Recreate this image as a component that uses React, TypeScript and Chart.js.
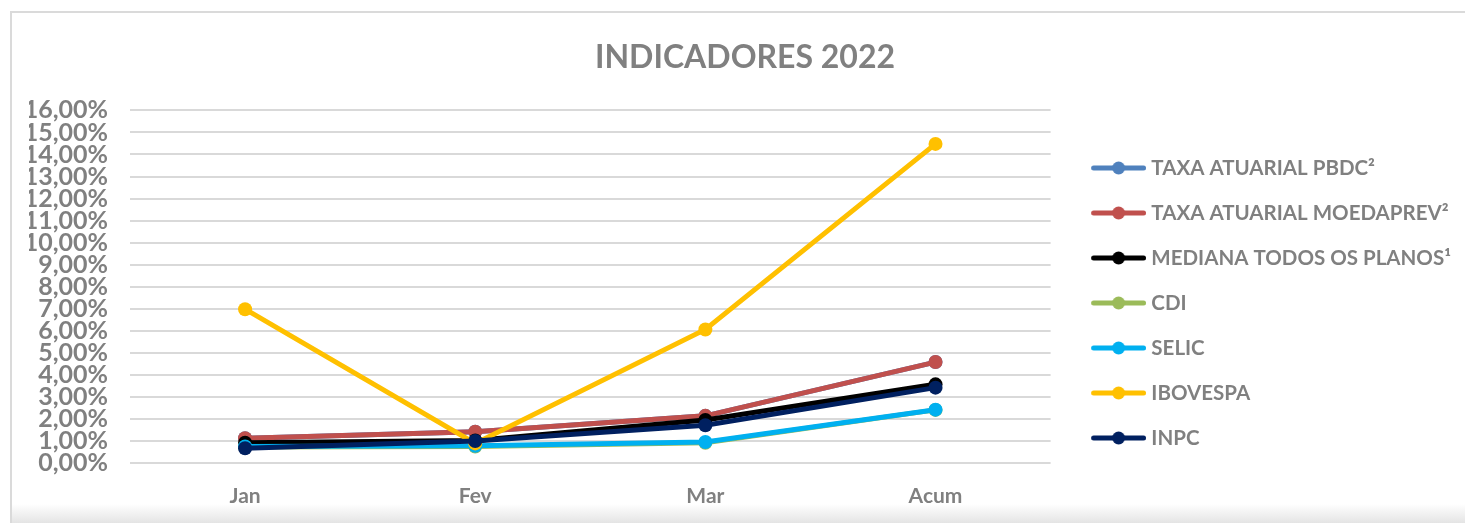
import React, { useEffect, useRef } from 'react';
import { Chart, registerables } from 'chart.js';

Chart.register(...registerables);

// ---- data ----
const categories = ['Jan', 'Fev', 'Mar', 'Acum'];
const seriesNames = [
  'TAXA ATUARIAL PBDC²',
  'TAXA ATUARIAL MOEDAPREV²',
  'MEDIANA TODOS OS PLANOS¹',
  'CDI',
  'SELIC',
  'IBOVESPA',
  'INPC',
];
const pbdcValues = [1.12, 1.42, 2.14, 4.58];
const moedaprevValues = [1.12, 1.42, 2.14, 4.58];
const medianaValues = [0.92, 1.02, 1.95, 3.57];
const cdiValues = [0.73, 0.75, 0.92, 2.41];
const selicValues = [0.75, 0.78, 0.95, 2.42];
const ibovespaValues = [6.98, 0.89, 6.06, 14.48];
const inpcValues = [0.67, 1.0, 1.71, 3.42];
const yMin = 0;
const yMax = 16;
const yStep = 1;

const seriesColors = ['#4f81bd', '#c0504d', '#000000', '#9bbb59', '#00b0f0', '#ffc000', '#002060'];
const allValues = [pbdcValues, moedaprevValues, medianaValues, cdiValues, selicValues, ibovespaValues, inpcValues];

const TEXT = '#808080';
const FONT = 'Lato';
const LEG_FONT = 20.5;
const LEG_PAD = 24.5;
const BOX_W = 66;
const PLOT_RIGHT = 1050;
const PLOT_LEFT = 130;
const TITLE_CENTER = 745;

function makeMarker(color: string): HTMLCanvasElement {
  const c = document.createElement('canvas');
  c.width = 76;
  c.height = 18;
  const ctx = c.getContext('2d')!;
  ctx.strokeStyle = color;
  ctx.lineWidth = 5;
  ctx.lineCap = 'round';
  ctx.beginPath();
  ctx.moveTo(23.5, 9);
  ctx.lineTo(73.5, 9);
  ctx.stroke();
  ctx.fillStyle = color;
  ctx.beginPath();
  ctx.arc(48.5, 9, 6.5, 0, Math.PI * 2);
  ctx.fill();
  return c;
}

export default function App() {
  const ref = useRef<HTMLCanvasElement>(null);
  useEffect(() => {
    let chart: Chart | null = null;
    let cancelled = false;
    const build = () => {
      if (cancelled || !ref.current) return;
      const canvas = ref.current;
      const mctx = document.createElement('canvas').getContext('2d')!;
      mctx.font = `bold ${LEG_FONT}px ${FONT}`;
      const textW = Math.max(...seriesNames.map((s) => mctx.measureText(s).width));
      const legendW = LEG_PAD + BOX_W + LEG_FONT / 2 + textW + 10;
      const W = Math.ceil(PLOT_RIGHT + legendW);
      const padLeft = 2 * TITLE_CENTER - W;
      canvas.width = W;
      canvas.height = 606;
      canvas.style.width = W + 'px';
      canvas.style.height = '606px';

      const markers = seriesColors.map(makeMarker);
      const n = seriesNames.length;
      chart = new Chart(canvas, {
        type: 'line',
        data: {
          labels: categories,
          datasets: seriesNames.map((name, i) => ({
            label: name,
            data: allValues[i],
            borderColor: seriesColors[i],
            backgroundColor: seriesColors[i],
            pointBackgroundColor: seriesColors[i],
            pointBorderColor: seriesColors[i],
            borderWidth: 5,
            pointRadius: 7,
            pointBorderWidth: 0,
            tension: 0,
            order: n - 1 - i,
          })),
        },
        options: {
          responsive: false,
          animation: false,
          layout: { padding: { left: padLeft, right: 0, top: 0, bottom: 0 } },
          plugins: {
            tooltip: { enabled: false },
            title: {
              display: true,
              text: 'INDICADORES 2022',
              color: TEXT,
              font: { family: FONT, size: 32, weight: 'bold' },
              padding: { top: 38, bottom: 34 },
            },
            legend: {
              position: 'right',
              align: 'center',
              maxWidth: 1000,
              labels: {
                usePointStyle: true,
                pointStyleWidth: BOX_W,
                padding: LEG_PAD,
                color: TEXT,
                font: { family: FONT, size: LEG_FONT, weight: 'bold' },
                generateLabels: (ch: any) =>
                  ch.data.datasets.map((ds: any, i: number) => ({
                    text: ds.label,
                    fillStyle: ds.borderColor,
                    strokeStyle: ds.borderColor,
                    lineWidth: 0,
                    hidden: false,
                    datasetIndex: i,
                    pointStyle: markers[i],
                    fontColor: TEXT,
                  })),
              },
            },
          },
          scales: {
            x: {
              offset: true,
              grid: { display: false },
              border: { display: false },
              ticks: {
                color: TEXT,
                padding: 13,
                font: { family: FONT, size: 21, weight: 'bold' },
              },
              afterFit: (s: any) => {
                s.height = 143;
              },
            },
            y: {
              min: yMin,
              max: yMax,
              border: { display: false },
              grid: { color: '#d9d9d9', lineWidth: 2, drawTicks: false },
              ticks: {
                stepSize: yStep,
                autoSkip: false,
                padding: 22,
                color: TEXT,
                font: { family: FONT, size: 25, weight: 'bold', lineHeight: 1 },
                callback: (v: any) => Number(v).toFixed(2).replace('.', ',') + '%',
              },
              afterFit: (s: any) => {
                s.width = PLOT_LEFT - padLeft;
              },
            },
          },
        },
      } as any);
    };
    const loads = [
      document.fonts.load(`bold 21px ${FONT}`),
      document.fonts.load(`bold 25px ${FONT}`),
      document.fonts.load(`bold 32px ${FONT}`),
    ];
    Promise.all(loads)
      .catch(() => null)
      .then(() => build());
    return () => {
      cancelled = true;
      if (chart) chart.destroy();
    };
  }, []);

  return (
    <div
      style={{
        position: 'absolute',
        left: 0,
        top: 0,
        width: 1465,
        height: 523,
        overflow: 'hidden',
        background: '#ffffff',
      }}
    >
      <div
        style={{
          position: 'absolute',
          left: 10,
          top: 11,
          width: 1470,
          height: 520,
          borderLeft: '2px solid #dadada',
          borderTop: '2px solid #dadada',
          boxSizing: 'border-box',
        }}
      />
      <div
        style={{
          position: 'absolute',
          left: 12,
          top: 504,
          width: 1460,
          height: 19,
          background: 'linear-gradient(to bottom, #ffffff, #e4e4e4)',
        }}
      />
      <canvas
        ref={ref}
        width={1465}
        height={606}
        style={{ position: 'absolute', left: 0, top: 0, width: 1465, height: 606 }}
      />
    </div>
  );
}
